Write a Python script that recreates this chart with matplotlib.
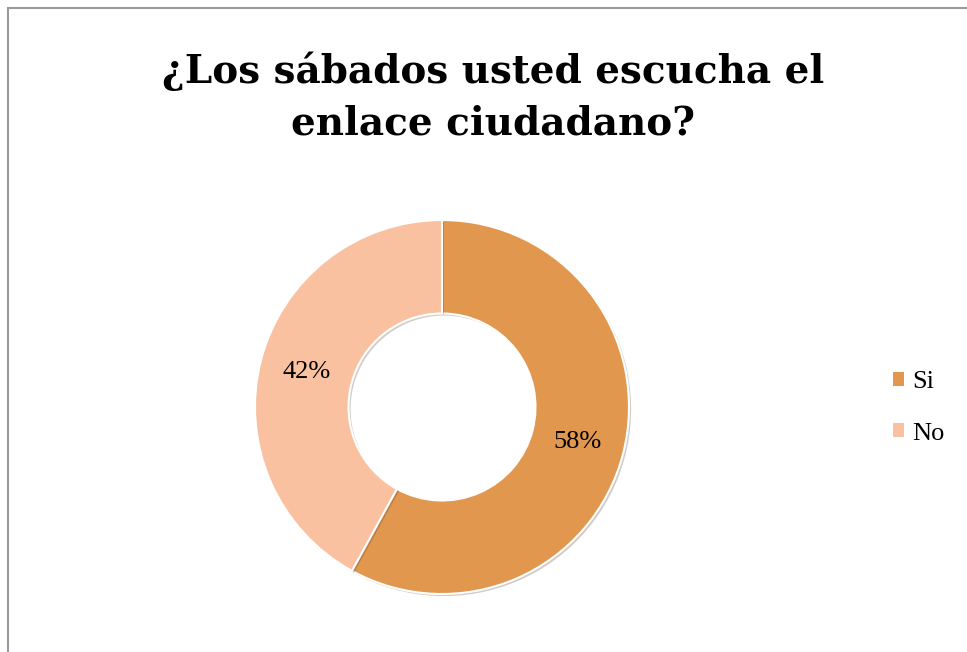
import matplotlib.pyplot as plt
import matplotlib.patheffects as pe
from matplotlib.patches import Rectangle

# Data
categories = ['Si', 'No']
values = [58, 42]
colors = ['#E2974F', '#F9C1A0']
title = '¿Los sábados usted escucha el\nenlace ciudadano?'

W, H = 967, 652
fig = plt.figure(figsize=(W / 100, H / 100), dpi=100)

# chart frame (only top and left edges visible in the crop)
fig.patches.append(Rectangle((8 / W, -0.1), 1.2, (H - 8) / H + 0.1,
                             transform=fig.transFigure, fill=False,
                             edgecolor='#9a9a9a', linewidth=1.5))

# donut axes, centre at (442, 407) px, outer radius 187 px
cx, cy, r = 442, 407, 187
lim = 1.25
size = r * lim * 2
ax = fig.add_axes([(cx - size / 2) / W, (H - cy - size / 2) / H, size / W, size / H])

wedges, texts, autotexts = ax.pie(
    values, colors=colors, startangle=90, counterclock=False,
    radius=1.0, autopct='%1.0f%%', pctdistance=0.75,
    wedgeprops=dict(width=0.5, edgecolor='white', linewidth=1.5),
    textprops=dict(family='Liberation Serif', fontsize=19, color='black'))
for w in wedges:
    w.set_path_effects([pe.SimplePatchShadow(offset=(1.5, -1.5), alpha=0.25), pe.Normal()])
ax.set_xlim(-lim, lim)
ax.set_ylim(-lim, lim)
ax.set_aspect('equal')
ax.axis('off')

fig.text(493 / W, 1 - 97 / H, title, ha='center', va='center',
         fontsize=28, fontweight='bold', family='DejaVu Serif', linespacing=1.45)

leg = fig.legend(wedges, categories, loc='center left',
                 bbox_to_anchor=(893 / W, 1 - 408 / H), frameon=False,
                 borderaxespad=0, borderpad=0,
                 prop=dict(family='Liberation Serif', size=19),
                 handlelength=0.42, handleheight=0.42, handletextpad=0.3,
                 labelspacing=1.1)
for h in leg.legend_handles:
    h.set_path_effects([])
    h.set_edgecolor('none')

fig.savefig('out.png', dpi=100)
